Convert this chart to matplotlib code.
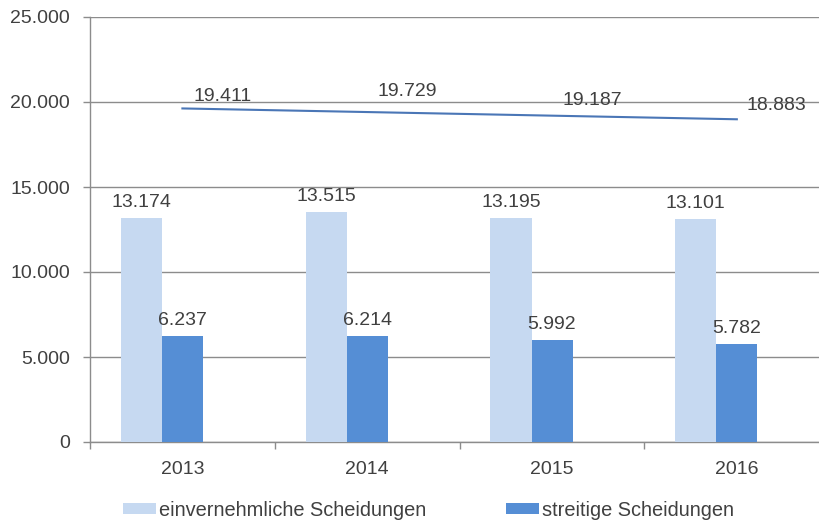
import matplotlib.pyplot as plt
import numpy as np
from matplotlib.ticker import FixedLocator, FuncFormatter

plt.rcParams["font.family"] = ["Liberation Sans", "DejaVu Sans"]

YEARS = ["2013", "2014", "2015", "2016"]
EINVERNEHMLICH = [13174, 13515, 13195, 13101]
STREITIG = [6237, 6214, 5992, 5782]
GESAMT = [19411, 19729, 19187, 18883]

LIGHT = "#c6d9f1"
DARK = "#558ed5"
LINE = "#4a76b6"
GRID = "#8c8c8c"
TEXT = "#404040"


def de_number(v: float) -> str:
    return f"{int(round(v)):,}".replace(",", ".")


def plot_data():
    fig = plt.figure(figsize=(8.2, 5.22), dpi=100)
    fig.patch.set_facecolor("white")
    ax = fig.add_axes([90 / 820, 80 / 522, 1 - 90 / 820, 425 / 522])

    x = np.arange(len(YEARS))
    width = 0.222

    bars1 = ax.bar(x - width, EINVERNEHMLICH, width, color=LIGHT,
                   label="einvernehmliche Scheidungen", zorder=3)
    bars2 = ax.bar(x, STREITIG, width, color=DARK,
                   label="streitige Scheidungen", zorder=3)

    # linear trend of the totals, labels sit at the actual totals
    slope, intercept = np.polyfit(x, GESAMT, 1)
    ax.plot(x, slope * x + intercept, color=LINE, linewidth=1.5, zorder=4)

    for bars, vals in ((bars1, EINVERNEHMLICH), (bars2, STREITIG)):
        for b, v in zip(bars, vals):
            ax.annotate(de_number(v), (b.get_x() + b.get_width() / 2, v),
                        xytext=(0, 11), textcoords="offset pixels",
                        ha="center", va="baseline", fontsize=14, color=TEXT)

    for xi, v in zip(x, GESAMT):
        ax.annotate(de_number(v), (xi, v), xytext=(40, 11),
                    textcoords="offset pixels", ha="center", va="baseline",
                    fontsize=14, color=TEXT)

    ax.set_xlim(-0.5, 3.45)
    ax.set_ylim(0, 25000)
    ax.set_xticks(x)
    ax.set_xticklabels(YEARS)
    ax.xaxis.set_minor_locator(FixedLocator([-0.5, 0.5, 1.5, 2.5]))
    ax.set_yticks(np.arange(0, 25001, 5000))
    ax.yaxis.set_major_formatter(FuncFormatter(lambda v, p: de_number(v)))

    ax.tick_params(axis="x", which="major", length=0, pad=13.4,
                   labelsize=14, labelcolor=TEXT)
    ax.tick_params(axis="x", which="minor", length=5, width=1, color=GRID)
    ax.tick_params(axis="y", length=5, width=1, color=GRID, pad=9.5,
                   labelsize=14, labelcolor=TEXT)

    ax.grid(axis="y", color=GRID, linewidth=1, zorder=0)
    ax.set_axisbelow(True)
    for side in ("top", "right"):
        ax.spines[side].set_visible(False)
    for side in ("left", "bottom"):
        ax.spines[side].set_color(GRID)
        ax.spines[side].set_linewidth(1)

    fig.legend(handles=[bars1, bars2], loc="center",
               bbox_to_anchor=(428.5 / 820, 12 / 522), ncol=2, frameon=False,
               fontsize=14.4, labelcolor=TEXT, handlelength=1.65,
               handleheight=0.45, handletextpad=0.15, columnspacing=4.0)

    plt.savefig("out.png", dpi=100, facecolor="white")


if __name__ == "__main__":
    plot_data()
